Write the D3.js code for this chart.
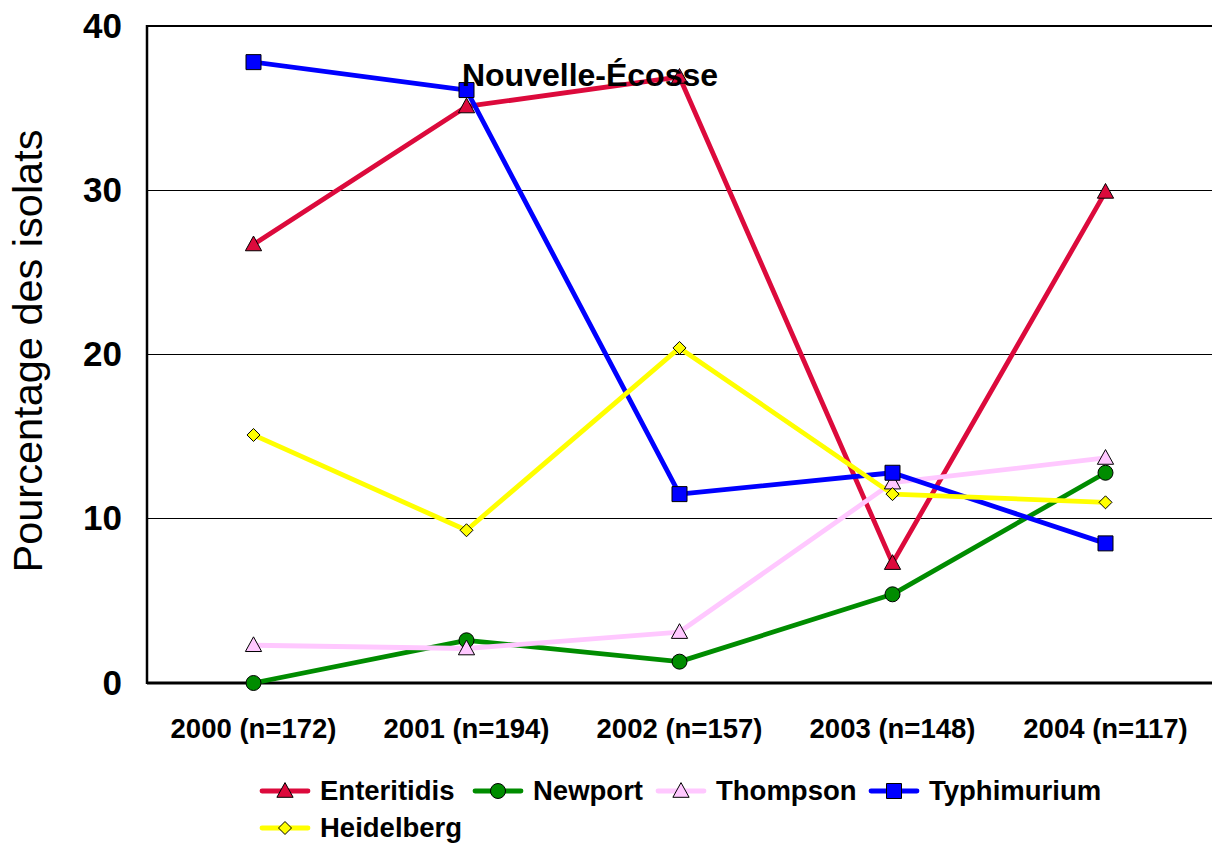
<!DOCTYPE html>
<html>
<head>
<meta charset="utf-8">
<script src="https://cdn.jsdelivr.net/npm/d3@7"></script>
<style>
  html, body { margin: 0; padding: 0; background: #fff; }
  svg { display: block; font-family: Arial, "Liberation Sans", sans-serif; }
</style>
</head>
<body>
<svg id="chart" width="1212" height="843"></svg>
<script>
// Salmonella serotypes, share of isolates by year (Nova Scotia)
const categories = ["2000 (n=172)", "2001 (n=194)", "2002 (n=157)", "2003 (n=148)", "2004 (n=117)"];
const enteritidis = [26.7, 35.1, 36.9, 7.3, 29.9];
const newport     = [0.0, 2.6, 1.3, 5.4, 12.8];
const thompson    = [2.3, 2.1, 3.1, 12.2, 13.7];
const typhimurium = [37.8, 36.1, 11.5, 12.8, 8.5];
const heidelberg  = [15.1, 9.3, 20.4, 11.5, 11.0];
const yTicks = [0, 10, 20, 30, 40];
const title = "Nouvelle-Écosse";
const yTitle = "Pourcentage des isolats";

const series = [
  { name: "Enteritidis", values: enteritidis, color: "#dc0a3c", fill: "#dc0a3c", symbol: "triangle" },
  { name: "Newport",     values: newport,     color: "#008c00", fill: "#008c00", symbol: "circle" },
  { name: "Thompson",    values: thompson,    color: "#ffc8ff", fill: "#ffc8ff", symbol: "triangle" },
  { name: "Typhimurium", values: typhimurium, color: "#0000ff", fill: "#0000ff", symbol: "square" },
  { name: "Heidelberg",  values: heidelberg,  color: "#ffff00", fill: "#ffff00", symbol: "diamond" }
];

const FONT = "Arial, 'Liberation Sans', sans-serif";
const svg = d3.select("#chart");
const plot = { left: 147, top: 26, right: 1212, bottom: 683 };

const x = d3.scaleBand().domain(categories).range([plot.left, plot.left + 5 * 213]);
const y = d3.scaleLinear().domain([0, 40]).range([plot.bottom, plot.top]);
const cx = c => x(c) + x.bandwidth() / 2;

// gridlines
svg.append("g").selectAll("line").data(yTicks.filter(t => t > 0)).join("line")
  .attr("x1", plot.left).attr("x2", plot.right)
  .attr("y1", d => y(d)).attr("y2", d => y(d))
  .attr("stroke", "#000").attr("stroke-width", d => d === 40 ? 2 : 1.2)
  .attr("shape-rendering", "crispEdges");

// axes lines
svg.append("line").attr("x1", plot.left).attr("x2", plot.left)
  .attr("y1", plot.top - 1).attr("y2", plot.bottom + 1)
  .attr("stroke", "#000").attr("stroke-width", 2.5);
svg.append("line").attr("x1", plot.left).attr("x2", plot.right)
  .attr("y1", plot.bottom).attr("y2", plot.bottom)
  .attr("stroke", "#000").attr("stroke-width", 3);

// y tick labels
const yAxis = d3.axisLeft(y).tickValues(yTicks).tickSize(0).tickPadding(25);
const yg = svg.append("g").attr("transform", `translate(${plot.left},0)`).call(yAxis);
yg.select(".domain").remove();
yg.selectAll("text").attr("font-size", 35).attr("font-weight", "bold")
  .attr("font-family", FONT).attr("fill", "#000");

// x tick labels
const xAxis = d3.axisBottom(x).tickSize(0).tickPadding(35);
const xg = svg.append("g").attr("transform", `translate(0,${plot.bottom})`).call(xAxis);
xg.select(".domain").remove();
xg.selectAll("text").attr("font-size", 27.5).attr("font-weight", "bold")
  .attr("font-family", FONT).attr("fill", "#000");

// y title
svg.append("text")
  .attr("transform", `translate(42,351) rotate(-90)`)
  .attr("text-anchor", "middle").attr("font-size", 41.5).attr("fill", "#000")
  .text(yTitle);

const symbolPath = (sym, size) => {
  const s = size;
  if (sym === "square") return `M${-s/2},${-s/2}H${s/2}V${s/2}H${-s/2}Z`;
  if (sym === "triangle") return `M0,${-s*0.6}L${s*0.58},${s*0.45}L${-s*0.58},${s*0.45}Z`;
  if (sym === "diamond") return `M0,${-s/2}L${s/2},0L0,${s/2}L${-s/2},0Z`;
  const r = s / 2;
  return `M${r},0A${r},${r} 0 1,1 ${-r},0A${r},${r} 0 1,1 ${r},0Z`;
};
const symbolSize = { square: 15, triangle: 14, diamond: 13, circle: 15 };

const line = d3.line().x((d, i) => cx(categories[i])).y(d => y(d));

// lines
const gLines = svg.append("g");
series.forEach(s => {
  gLines.append("path").datum(s.values).attr("d", line)
    .attr("fill", "none").attr("stroke", s.color).attr("stroke-width", 4.8)
    .attr("stroke-linejoin", "round");
});
// markers
series.forEach(s => {
  svg.append("g").selectAll("path").data(s.values).join("path")
    .attr("transform", (d, i) => `translate(${cx(categories[i])},${y(d)})`)
    .attr("d", symbolPath(s.symbol, symbolSize[s.symbol]))
    .attr("fill", s.fill).attr("stroke", "#000").attr("stroke-width", 1);
});

// chart title
svg.append("text").attr("x", 590).attr("y", 86).attr("text-anchor", "middle")
  .attr("font-size", 32).attr("font-weight", "bold").attr("fill", "#000").text(title);

// legend
const legendPos = [
  { x: 262, y: 791 }, { x: 475, y: 791 }, { x: 658, y: 791 }, { x: 871, y: 791 }, { x: 262, y: 828 }
];
const lg = svg.append("g");
series.forEach((s, i) => {
  const p = legendPos[i];
  lg.append("line").attr("x1", p.x).attr("x2", p.x + 46).attr("y1", p.y).attr("y2", p.y)
    .attr("stroke", s.color).attr("stroke-width", 4.8).attr("stroke-linecap", "round");
  lg.append("path").attr("transform", `translate(${p.x + 23},${p.y})`)
    .attr("d", symbolPath(s.symbol, symbolSize[s.symbol]))
    .attr("fill", s.fill).attr("stroke", "#000").attr("stroke-width", 1);
  lg.append("text").attr("x", p.x + 58).attr("y", p.y + 9)
    .attr("font-size", 27.5).attr("font-weight", "bold").attr("fill", "#000").text(s.name);
});
</script>
</body>
</html>
